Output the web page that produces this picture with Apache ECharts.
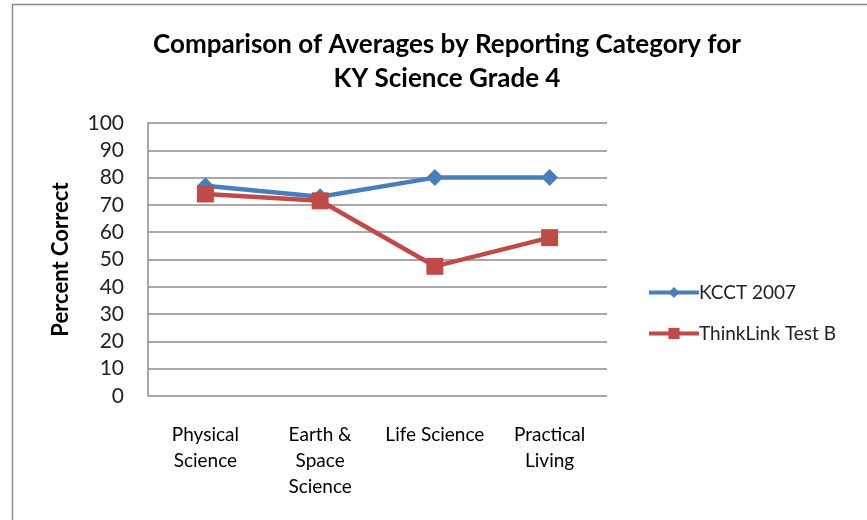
<!DOCTYPE html>
<html>
<head>
<meta charset="utf-8">
<script src="https://cdn.jsdelivr.net/npm/echarts@6/dist/echarts.min.js"></script>
<style>
  html, body { margin: 0; padding: 0; background: #fff; }
  #main { width: 867px; height: 520px; }
</style>
</head>
<body>
<div id="main"></div>
<script>
var categories = ['Physical\nScience', 'Earth &\nSpace\nScience', 'Life Science', 'Practical\nLiving'];
var kcct2007 = [77, 73, 80, 80];
var thinkLinkB = [74, 71.5, 47.5, 58];

var chart = echarts.init(document.getElementById('main'));
var font = 'Lato, "Open Sans", sans-serif';

var option = {
  backgroundColor: '#fff',
  textStyle: { fontFamily: font },
  graphic: [{
    type: 'rect',
    shape: { x: 12.5, y: 4.5, width: 900, height: 600 },
    style: { fill: 'none', stroke: '#8c8c8c', lineWidth: 1.5 },
    silent: true
  }],
  title: {
    text: 'Comparison of Averages by Reporting Category for\nKY Science Grade 4',
    left: 442,
    textAlign: 'center',
    top: 23,
    textStyle: { fontFamily: font, fontSize: 26, fontWeight: 'bold', color: '#000', lineHeight: 34 }
  },
  legend: {
    orient: 'vertical',
    left: 642,
    top: 278,
    itemWidth: 50,
    itemHeight: 14,
    itemGap: 22,
    lineStyle: { width: 4 },
    textStyle: { fontFamily: font, fontSize: 19, color: '#222', padding: [0, 0, 0, -5] },
    data: ['KCCT 2007', 'ThinkLink Test B']
  },
  grid: { left: 148, right: 260, top: 123, bottom: 124 },
  xAxis: {
    type: 'category',
    data: categories,
    boundaryGap: true,
    axisLine: { show: false },
    axisTick: { show: false },
    axisLabel: { interval: 0, margin: 26, fontFamily: font, fontSize: 19, color: '#000', lineHeight: 26, verticalAlign: 'top' }
  },
  yAxis: {
    type: 'value',
    min: 0,
    max: 100,
    interval: 10,
    name: 'Percent Correct',
    nameLocation: 'middle',
    nameGap: 76,
    nameTextStyle: { fontFamily: font, fontSize: 22, fontWeight: 'bold', color: '#000' },
    axisLine: { show: true, lineStyle: { color: '#8c8c8c', width: 1.5 } },
    axisTick: { show: false },
    axisLabel: { margin: 24, fontFamily: font, fontSize: 21, color: '#222' },
    splitLine: { lineStyle: { color: '#8c8c8c', width: 1.5 } }
  },
  series: [
    {
      name: 'KCCT 2007',
      type: 'line',
      data: kcct2007,
      symbol: 'diamond',
      symbolSize: 17,
      itemStyle: { color: '#4A7EBB' },
      lineStyle: { color: '#4A7EBB', width: 4.5 }
    },
    {
      name: 'ThinkLink Test B',
      type: 'line',
      data: thinkLinkB,
      symbol: 'rect',
      symbolSize: 17,
      itemStyle: { color: '#BE4B48' },
      lineStyle: { color: '#BE4B48', width: 4.5 }
    }
  ]
};

chart.setOption(option);
</script>
</body>
</html>
